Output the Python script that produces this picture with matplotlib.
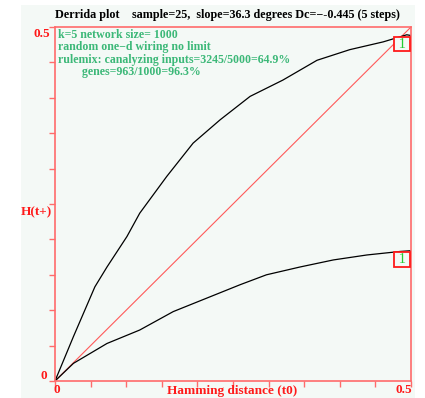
import matplotlib
matplotlib.use("Agg")
import matplotlib.pyplot as plt
from matplotlib.patches import Rectangle

# Hamming distance at t0 vs H(t+)
upper_x = [0.0, 0.026, 0.056, 0.073, 0.101, 0.119, 0.157, 0.194, 0.232,
           0.274, 0.320, 0.368, 0.414, 0.461, 0.494, 0.5]
upper_y = [0.0, 0.063, 0.133, 0.161, 0.204, 0.237, 0.289, 0.336, 0.369,
           0.402, 0.425, 0.453, 0.468, 0.479, 0.489, 0.488]
lower_x = [0.0, 0.026, 0.073, 0.119, 0.166, 0.213, 0.260, 0.297, 0.344,
           0.391, 0.438, 0.485, 0.5]
lower_y = [0.0, 0.025, 0.053, 0.072, 0.098, 0.117, 0.136, 0.150, 0.161,
           0.171, 0.178, 0.183, 0.184]

title_left = "Derrida plot"
title_right = "sample=25,  slope=36.3 degrees Dc=\u2212-0.445 (5 steps)"
info_lines = [
    "k=5 network size= 1000",
    "random one\u2212d wiring no limit",
    "rulemix: canalyzing inputs=3245/5000=64.9%",
    "        genes=963/1000=96.3%",
]

W, H = 425, 398
RED = "#ff1a1a"
BOX = "#ff6b6b"
GREEN = "#3cb878"
PALE = "#f4f9f6"
SERIF = ["Liberation Serif", "DejaVu Serif"]


def fx(px):
    return px / W


def fy(py):
    return 1 - py / H


fig = plt.figure(figsize=(W / 100, H / 100), dpi=100)
fig.patch.set_facecolor("white")
fig.add_artist(Rectangle((fx(21), 0), fx(415) - fx(21), fy(5), transform=fig.transFigure,
                         facecolor=PALE, edgecolor="none", zorder=0))

ax = fig.add_axes([fx(55), fy(381), fx(411) - fx(55), fy(27) - fy(381)])
ax.set_facecolor(PALE)
ax.set_xlim(0, 0.5)
ax.set_ylim(0, 0.5)

ax.plot([0, 0.5], [0, 0.5], color="#ff5a5a", lw=0.8)
ax.plot(upper_x, upper_y, color="black", lw=0.9)
ax.plot(lower_x, lower_y, color="black", lw=0.9)

# little "1" tags at the end of each curve
for yv in (upper_y[-1], lower_y[-1]):
    ax.annotate(" 1 ", xy=(0.5, yv), xytext=(-1, -1.5), textcoords="offset points",
                ha="right", va="top", color="#22cc33", fontsize=10.5, family=SERIF,
                annotation_clip=False, zorder=5,
                bbox=dict(boxstyle="square,pad=0.05", fc=PALE, ec="#ff1a1a", lw=1.3))

for s in ax.spines.values():
    s.set_color(BOX)
    s.set_linewidth(1.2)
ticks = [i * 0.05 for i in range(11)]
ax.set_xticks(ticks)
ax.set_yticks(ticks)
ax.tick_params(direction="out", length=4, width=1, color=BOX,
               labelbottom=False, labelleft=False)

# axis labels
tk = dict(color=RED, fontsize=9.5, fontweight="bold", family=SERIF)
fig.text(fx(50), fy(34), "0.5", ha="right", va="center", **tk)
fig.text(fx(47), fy(376), "0", ha="right", va="center", **tk)
fig.text(fx(57), fy(384), "0", ha="center", va="top", **tk)
fig.text(fx(404), fy(384), "0.5", ha="center", va="top", **tk)
fig.text(fx(36), fy(212), "H(t+)", ha="center", va="center", **tk)
fig.text(fx(232), fy(385), "Hamming distance (t0)", ha="center", va="top", **tk)

# title
hd = dict(color="black", fontsize=8.7, fontweight="bold", family=SERIF)
fig.text(fx(55), fy(15), title_left, ha="left", va="center", **hd)
fig.text(fx(132), fy(15), title_right, ha="left", va="center", **hd)

for i, line in enumerate(info_lines):
    fig.text(fx(58), fy(34.5 + 12.5 * i), line, ha="left", va="center",
             color=GREEN, fontsize=8.6, fontweight="bold", family=SERIF)

fig.savefig("out.png", dpi=100, facecolor=fig.get_facecolor())
